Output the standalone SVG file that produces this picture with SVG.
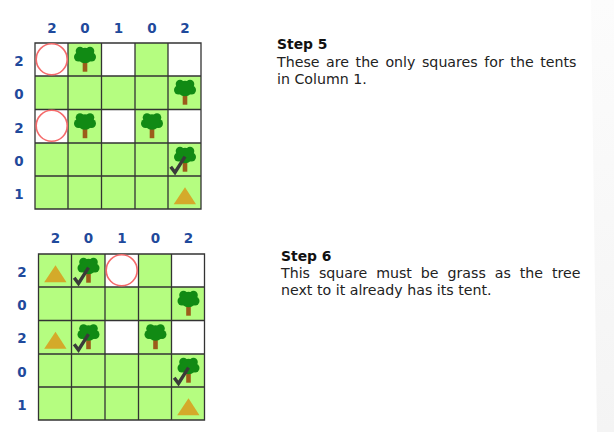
<svg xmlns="http://www.w3.org/2000/svg" xmlns:xlink="http://www.w3.org/1999/xlink" width="614" height="432" viewBox="0 0 614 432">
<style>
.num{font:bold 13.5px "DejaVu Sans",Verdana,sans-serif;fill:#1f4a9c;text-anchor:middle}
.h{font:bold 13.9px "DejaVu Sans",Verdana,sans-serif;fill:#111}
.b{font:14.2px "DejaVu Sans",Verdana,sans-serif;fill:#222}
.g{fill:#b5fd80}
.w{fill:#fff}
.l{stroke:#333;stroke-width:1.3;fill:none}
</style>
<defs>
<linearGradient id="edge" x1="0" x2="0" y1="0" y2="1"><stop offset="0" stop-color="#fcfcfc"/><stop offset="1" stop-color="#f4f4f4"/></linearGradient>
<g id="tree"><rect x="14.7" y="17" width="4.600" height="11.700" fill="#9c5c1a"/><g fill="#118a14"><circle cx="12" cy="8" r="4.300"/><circle cx="22" cy="8" r="4.300"/><circle cx="10.500" cy="14" r="4.500"/><circle cx="23.500" cy="14" r="4.500"/><ellipse cx="17" cy="12.500" rx="8" ry="7.800"/></g></g>
<path id="check" d="M2.700 23.700L7 29.500L17 13.700" fill="none" stroke="#3a3a3a" stroke-width="3.400"/>
<path id="tent" d="M17 11.300L28 28.300H5.700z" fill="#d4aa2a"/>
<circle id="ring" cx="16.700" cy="16.300" r="15.500" fill="#fff" stroke="#f56a6a" stroke-width="1.600"/>
</defs>
<rect width="614" height="432" fill="#fff"/>
<path d="M591 0H614V432H597z" fill="url(#edge)"/>
<g id="board-step-5">
<rect class="g" x="35" y="43" width="166" height="166"/>
<rect class="w" x="35" y="43" width="33" height="33"/><rect class="w" x="101.500" y="43" width="33.500" height="33"/><rect class="w" x="168" y="43" width="33" height="33"/>
<rect class="w" x="35" y="109.500" width="33" height="33.500"/><rect class="w" x="101.500" y="109.500" width="33.500" height="33.500"/><rect class="w" x="168" y="109.500" width="33" height="33.500"/>
<path class="l" d="M35 43H201V209H35zM68 43V209M101.500 43V209M135 43V209M168 43V209M35 76H201M35 109.500H201M35 143H201M35 176H201"/>
<use xlink:href="#ring" x="35" y="43"/><use xlink:href="#ring" x="35" y="109.500"/>
<use xlink:href="#tree" x="68" y="43"/><use xlink:href="#tree" x="168" y="76"/><use xlink:href="#tree" x="68" y="109.500"/><use xlink:href="#tree" x="135" y="109.500"/><use xlink:href="#tree" x="168" y="143"/>
<use xlink:href="#check" x="168" y="143"/><use xlink:href="#tent" x="168" y="176"/>
<text class="num" x="52" y="32.700">2</text><text class="num" x="85" y="32.700">0</text><text class="num" x="118.500" y="32.700">1</text><text class="num" x="152" y="32.700">0</text><text class="num" x="185" y="32.700">2</text>
<text class="num" x="19" y="66">2</text><text class="num" x="19" y="99">0</text><text class="num" x="19" y="132.500">2</text><text class="num" x="19" y="166">0</text><text class="num" x="19" y="199">1</text>
</g>
<g id="board-step-6">
<rect class="g" x="38.500" y="254" width="166" height="166"/>
<rect class="w" x="105" y="254" width="33.500" height="33"/><rect class="w" x="171.500" y="254" width="33" height="33"/>
<rect class="w" x="105" y="320.500" width="33.500" height="33.500"/><rect class="w" x="171.500" y="320.500" width="33" height="33.500"/>
<path class="l" d="M38.500 254H204.500V420H38.500zM71.500 254V420M105 254V420M138.500 254V420M171.500 254V420M38.500 287H204.500M38.500 320.500H204.500M38.500 354H204.500M38.500 387H204.500"/>
<use xlink:href="#ring" x="105" y="254"/>
<use xlink:href="#tent" x="38.500" y="254"/><use xlink:href="#tent" x="38.500" y="320.500"/><use xlink:href="#tent" x="171.500" y="387"/>
<use xlink:href="#tree" x="71.500" y="254"/><use xlink:href="#tree" x="171.500" y="287"/><use xlink:href="#tree" x="71.500" y="320.500"/><use xlink:href="#tree" x="138.500" y="320.500"/><use xlink:href="#tree" x="171.500" y="354"/>
<use xlink:href="#check" x="71.500" y="254"/><use xlink:href="#check" x="71.500" y="320.500"/><use xlink:href="#check" x="171.500" y="354"/>
<text class="num" x="55.500" y="243.300">2</text><text class="num" x="88.500" y="243.300">0</text><text class="num" x="122" y="243.300">1</text><text class="num" x="155.500" y="243.300">0</text><text class="num" x="188.500" y="243.300">2</text>
<text class="num" x="22" y="276.700">2</text><text class="num" x="22" y="309.700">0</text><text class="num" x="22" y="343">2</text><text class="num" x="22" y="376.700">0</text><text class="num" x="22" y="409.700">1</text>
</g>
<g id="text-step-5">
<text class="h" x="277" y="49.300">Step 5</text>
<text class="b" x="277" y="66.700" word-spacing="2.050">These are the only squares for the tents</text>
<text class="b" x="277" y="84">in Column 1.</text>
</g>
<g id="text-step-6">
<text class="h" x="281" y="260.700">Step 6</text>
<text class="b" x="281" y="278" word-spacing="4.400">This square must be grass as the tree</text>
<text class="b" x="281" y="295.300">next to it already has its tent.</text>
</g>
</svg>
